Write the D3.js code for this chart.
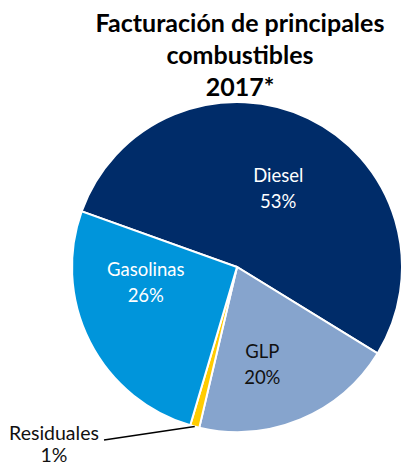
<!DOCTYPE html>
<html>
<head>
<meta charset="utf-8">
<script src="https://cdn.jsdelivr.net/npm/d3@7"></script>
<style>
  body { margin: 0; background: #fff; }
  text { font-family: Lato, "Open Sans", sans-serif; }
</style>
</head>
<body>
<div id="chart"></div>
<script>
const categories = ["Diesel", "GLP", "Residuales", "Gasolinas"];
const values = [53.3, 19.9, 0.9, 25.9];
const pctLabels = ["53%", "20%", "1%", "26%"];
const colors = ["#002c69", "#86a4cd", "#ffcc00", "#0095db"];
const titleLines = ["Facturación de principales", "combustibles", "2017*"];

const width = 404, height = 465;
const cx = 237, cy = 267, radius = 165;

const svg = d3.select("#chart").append("svg")
  .attr("width", width)
  .attr("height", height);

svg.selectAll("text.title")
  .data(titleLines)
  .enter().append("text")
  .attr("class", "title")
  .attr("x", 240)
  .attr("y", (d, i) => 32 + i * 32)
  .attr("text-anchor", "middle")
  .style("font-size", "25px")
  .style("font-weight", "bold")
  .text(d => d);

const pie = d3.pie()
  .sort(null)
  .startAngle(-70.3 * Math.PI / 180)
  .endAngle((360 - 70.3) * Math.PI / 180);

const arcs = pie(values);
const arc = d3.arc().innerRadius(0).outerRadius(radius);

const g = svg.append("g").attr("transform", `translate(${cx},${cy})`);

g.selectAll("path")
  .data(arcs)
  .enter().append("path")
  .attr("d", arc)
  .style("fill", (d, i) => colors[i])
  .style("stroke", "#fff")
  .style("stroke-width", 2);

// inside labels: centroid at 0.62r, nudged like the excel placement
const labelR = 0.62;
const nudge = [[-3, 13], [-14, 3], [0, 0], [0, -31]];
const labelColor = ["#fff", "#111", "#111", "#fff"];

arcs.forEach((d, i) => {
  if (categories[i] === "Residuales") return;
  const c = d3.arc().innerRadius(radius * labelR).outerRadius(radius * labelR).centroid(d);
  const x = c[0] + nudge[i][0], y = c[1] + nudge[i][1];
  const t = g.append("text")
    .attr("text-anchor", "middle")
    .style("font-size", "18.5px")
    .style("fill", labelColor[i]);
  t.append("tspan").attr("x", x).attr("y", y - 6).text(categories[i]);
  t.append("tspan").attr("x", x).attr("y", y + 20).text(pctLabels[i]);
});

// Residuales label with leader line
const res = arcs[2];
const mid = (res.startAngle + res.endAngle) / 2;
const edge = [Math.sin(mid) * radius, -Math.cos(mid) * radius];
g.append("path")
  .attr("d", d3.line()([[edge[0], edge[1]], [104 - cx, 440 - cy]]))
  .style("fill", "none")
  .style("stroke", "#000")
  .style("stroke-width", 1.5);

const rt = svg.append("text")
  .attr("text-anchor", "middle")
  .style("font-size", "19.5px")
  .style("fill", "#111");
rt.append("tspan").attr("x", 54).attr("y", 440).text(categories[2]);
rt.append("tspan").attr("x", 54).attr("y", 462).text(pctLabels[2]);
</script>
</body>
</html>
